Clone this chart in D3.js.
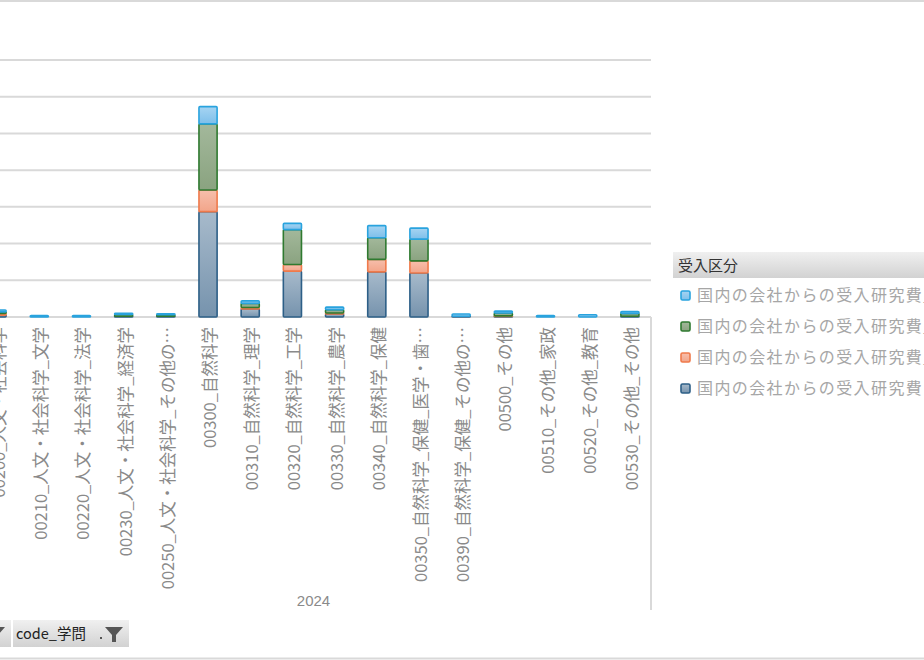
<!DOCTYPE html>
<html>
<head>
<meta charset="utf-8">
<script src="https://cdn.jsdelivr.net/npm/d3@7"></script>
<style>
  body { margin: 0; background: #fff; }
  svg { display: block; font-family: "Noto Sans CJK JP", "Noto Sans", sans-serif; }
</style>
</head>
<body>
<div id="chart"></div>
<script>
var width = 924, height = 660;

// categories on the x axis (the chart is cropped on its left side)
var categories = ["00200", "00210", "00220", "00230", "00250", "00300", "00310", "00320",
  "00330", "00340", "00350", "00390", "00500", "00510", "00520", "00530"];
// tick labels as the chart shows them (long ones are cut with …)
var tickLabels = ["00200_人文・社会科学", "00210_人文・社会科学_文学", "00220_人文・社会科学_法学",
  "00230_人文・社会科学_経済学", "00250_人文・社会科学_その他の…", "00300_自然科学",
  "00310_自然科学_理学", "00320_自然科学_工学", "00330_自然科学_農学", "00340_自然科学_保健",
  "00350_自然科学_保健_医学・歯…", "00390_自然科学_保健_その他の…", "00500_その他",
  "00510_その他_家政", "00520_その他_教育", "00530_その他_その他"];

// stacked series, bottom to top
var seriesBlue   = [5, 0, 0, 2, 2, 287, 22, 125, 8, 123, 120, 2, 2, 0, 0, 2];
var seriesOrange = [5, 0, 0, 0, 0, 59, 4, 18, 3, 34, 33, 0, 1, 0, 0, 0];
var seriesGreen  = [4, 0, 0, 5, 4, 180, 11, 95, 9, 59, 59, 0, 8, 0, 0, 8];
var seriesLight  = [5, 4, 4, 3, 3, 47, 7, 17, 7, 33, 30, 6, 5, 4, 6, 5];

var seriesNames = ["国内の会社からの受入研究費_共同研究", "国内の会社からの受入研究費_受託研究",
  "国内の会社からの受入研究費_その他", "国内の会社からの受入研究費"];
var yearLabel = "2024";
var yTicks = [0, 100, 200, 300, 400, 500, 600, 700];

var styles = [
  {key: "blue",   top: "#a7bacb", bottom: "#7693ad", stroke: "#2d5f87"},
  {key: "orange", top: "#f7bfac", bottom: "#f2a58a", stroke: "#ef7a4b"},
  {key: "green",  top: "#a3b89b", bottom: "#8aa380", stroke: "#2f7a30"},
  {key: "light",  top: "#a6d4f2", bottom: "#7ebfea", stroke: "#29a3de"}
];

var svg = d3.select("#chart").append("svg")
  .attr("width", width)
  .attr("height", height);

var defs = svg.append("defs");
styles.forEach(function(s) {
  var g = defs.append("linearGradient").attr("id", "grad-" + s.key)
    .attr("x1", 0).attr("y1", 0).attr("x2", 0).attr("y2", 1);
  g.append("stop").attr("offset", "0%").attr("stop-color", s.top);
  g.append("stop").attr("offset", "100%").attr("stop-color", s.bottom);
});
var bg = defs.append("linearGradient").attr("id", "grad-head")
  .attr("x1", 0).attr("y1", 0).attr("x2", 0).attr("y2", 1);
bg.append("stop").attr("offset", "0%").attr("stop-color", "#f0f0f0");
bg.append("stop").attr("offset", "100%").attr("stop-color", "#d2d2d2");

// outer border lines
svg.append("line").attr("x1", 0).attr("x2", width).attr("y1", 1).attr("y2", 1)
  .attr("stroke", "#d9d9d9").attr("stroke-width", 2);
svg.append("line").attr("x1", 0).attr("x2", width).attr("y1", 658.5).attr("y2", 658.5)
  .attr("stroke", "#d9d9d9").attr("stroke-width", 2);

var plotTop = 60, plotBottom = 317, plotLeft = -24, plotRight = 651;

var x = d3.scaleBand()
  .domain(categories)
  .range([plotLeft, plotRight])
  .paddingInner(0.57)
  .paddingOuter(0.285);

var y = d3.scaleLinear()
  .domain([0, 700])
  .range([plotBottom, plotTop]);

// gridlines (0 is the baseline)
svg.append("g")
  .selectAll("line")
  .data(yTicks)
  .enter().append("line")
  .attr("x1", 0)
  .attr("x2", plotRight)
  .attr("y1", function(d) { return y(d); })
  .attr("y2", function(d) { return y(d); })
  .attr("stroke", "#d9d9d9")
  .attr("stroke-width", 2);

// stack data
var rows = categories.map(function(c, i) {
  return {cat: c, blue: seriesBlue[i], orange: seriesOrange[i], green: seriesGreen[i], light: seriesLight[i]};
});
var stacked = d3.stack().keys(["blue", "orange", "green", "light"])(rows);

var layers = svg.append("g")
  .selectAll("g")
  .data(stacked)
  .enter().append("g")
  .attr("fill", function(d, i) { return "url(#grad-" + styles[i].key + ")"; })
  .attr("stroke", function(d, i) { return styles[i].stroke; })
  .attr("stroke-width", 1.6);

layers.selectAll("rect")
  .data(function(d) { return d.filter(function(p) { return p[1] - p[0] > 0; }); })
  .enter().append("rect")
  .attr("x", function(d) { return x(d.data.cat); })
  .attr("y", function(d) { return y(d[1]); })
  .attr("width", x.bandwidth())
  .attr("height", function(d) { return Math.max(y(d[0]) - y(d[1]), 0.5); })
  .attr("rx", 1);

// rotated category labels
svg.append("g")
  .selectAll("text")
  .data(categories)
  .enter().append("text")
  .attr("transform", function(d) {
    return "translate(" + (x(d) + x.bandwidth() / 2 + 8) + "," + (plotBottom + 10) + ") rotate(-90)";
  })
  .attr("text-anchor", "end")
  .attr("font-size", 16.5)
  .attr("fill", "#8a8a8a")
  .text(function(d, i) { return tickLabels[i]; });

// multi-level axis divider and year label
svg.append("line")
  .attr("x1", plotRight).attr("x2", plotRight)
  .attr("y1", plotBottom).attr("y2", 610)
  .attr("stroke", "#d9d9d9").attr("stroke-width", 2);

svg.append("text")
  .attr("x", (plotLeft + plotRight) / 2)
  .attr("y", 606)
  .attr("text-anchor", "middle")
  .attr("font-size", 15)
  .attr("fill", "#8a8a8a")
  .attr("font-family", "Liberation Sans, Arial, sans-serif")
  .text(yearLabel);

// legend
var legend = svg.append("g");
legend.append("rect")
  .attr("x", 673).attr("y", 252)
  .attr("width", 260).attr("height", 26)
  .attr("fill", "url(#grad-head)");
legend.append("text")
  .attr("x", 678).attr("y", 271)
  .attr("font-size", 15)
  .attr("fill", "#333")
  .text("受入区分");

var legendOrder = [3, 2, 1, 0];
legendOrder.forEach(function(si, i) {
  var item = legend.append("g")
    .attr("transform", "translate(681," + (291 + i * 31) + ")");
  item.append("rect")
    .attr("width", 9).attr("height", 9)
    .attr("rx", 1.5)
    .attr("fill", "url(#grad-" + styles[si].key + ")")
    .attr("stroke", styles[si].stroke)
    .attr("stroke-width", 1.6);
  item.append("text")
    .attr("x", 16)
    .attr("y", 10)
    .attr("font-size", 16)
    .attr("letter-spacing", 1.4)
    .attr("fill", "#a6a6a6")
    .text(seriesNames[i]);
});

// pivot field buttons at the bottom
function fieldButton(x0, w, label) {
  var b = svg.append("g").attr("transform", "translate(" + x0 + ",620)");
  b.append("rect").attr("width", w).attr("height", 27).attr("fill", "url(#grad-head)");
  if (label) {
    b.append("text").attr("x", 3).attr("y", 19)
      .attr("font-size", 14.5).attr("fill", "#222").text(label);
  }
  // dropdown dot and funnel icon
  b.append("rect").attr("x", w - 29).attr("y", 17).attr("width", 2).attr("height", 2).attr("fill", "#555");
  b.append("path")
    .attr("d", "M" + (w - 24) + ",7 L" + (w - 6) + ",7 L" + (w - 13) + ",15 L" + (w - 13) + ",22 L" + (w - 17) + ",22 L" + (w - 17) + ",15 Z")
    .attr("fill", "#555");
}
fieldButton(-101, 112, null);
fieldButton(13, 116, "code_学問");
</script>
</body>
</html>
